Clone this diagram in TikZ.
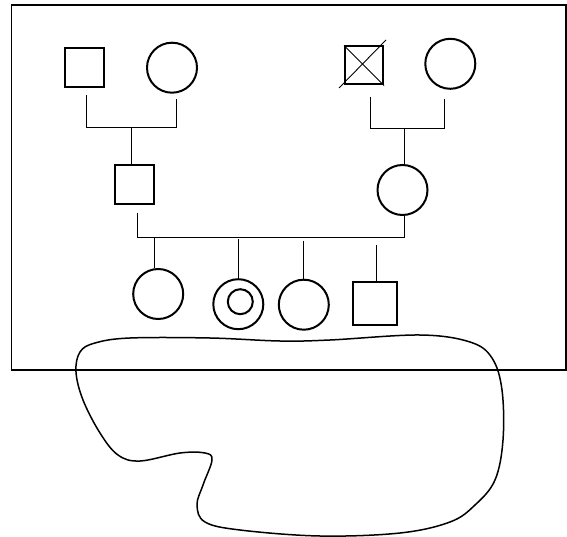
\documentclass[tikz,border=0pt]{standalone}
\begin{document}
\begin{tikzpicture}[x=1pt,y=-1pt,
  male/.style={draw,rectangle,line width=2pt,inner sep=0pt,minimum size=#1},
  female/.style={draw,circle,line width=2pt,inner sep=0pt,minimum size=#1},
  link/.style={line width=0.9pt},
  frame/.style={line width=1.3pt},
  blob/.style={line width=1.5pt}]
\useasboundingbox (0,0) rectangle (567,537);
\draw[frame] (11.5,5) rectangle (566,370);
% generation I
\node[male=39pt] (gf1) at (84.3,67.2) {};
\node[female=50pt] (gm1) at (172,67.7) {};
\node[male=38pt] (gf2) at (364,65.5) {};
\node[female=50pt] (gm2) at (450.3,63.8) {};
\draw[link] ([shift={(-5,2.5)}]gf2.south west) -- ([shift={(2,-5.5)}]gf2.north east);
\draw[link] (gf2.north west) -- (gf2.south east);
% generation II
\node[male=39pt] (fa) at (134,185) {};
\node[female=50pt] (mo) at (402.5,190) {};
% generation III
\node[female=50pt] (c1) at (158.2,294) {};
\node[female=50pt] (c2) at (238.3,304.2) {};
\node[circle,draw,line width=2pt,inner sep=0pt,minimum size=25pt] (c2i) at (240.3,301.7) {};
\node[female=50pt] (c3) at (303.8,304.7) {};
\node[draw,rectangle,line width=2pt,inner sep=0pt,minimum width=44pt,minimum height=43pt] (c4) at (375.2,303.2) {};
% connector points
\coordinate (a1) at (86,95);
\coordinate (b1) at (176,99);
\coordinate (m1) at (131.6,127.5);
\coordinate (a2) at (370,97);
\coordinate (b2) at (444.5,99);
\coordinate (m2) at (404,128.5);
\coordinate (a3) at (137.4,213);
\coordinate (b3) at (404.3,215);
\coordinate (m3) at (270,237.5);
\coordinate (s1) at (154.4,237.5);
\coordinate (s2) at (238,239);
\coordinate (s3) at (303.8,241);
\coordinate (s4) at (376,245);
% mating / sibship lines
\draw[link] (a1) -- (a1 |- m1) -- (b1 |- m1) -- (b1);
\draw[link] (m1) -- (m1 |- fa.north);
\draw[link] (a2) -- (a2 |- m2) -- (b2 |- m2) -- (b2);
\draw[link] (m2) -- (m2 |- mo.north);
\draw[link] (a3) -- (a3 |- m3) -- (b3 |- m3) -- (b3);
\draw[link] (s1) -- (s1 |- c1.north);
\draw[link] (s2) -- (s2 |- c2.north);
\draw[link] (s3) -- (s3 |- c3.north);
\draw[link] (s4) -- (s4 |- c4.north);
% free-form outline
\draw[blob] plot[smooth cycle, tension=0.6] coordinates {
 (76,372) (80,352) (95,343) (130,338) (210,338) (280,341) (330,340) (420,335)
 (470,342) (492,358) (502,390) (503,440) (495,480) (475,505) (450,522) (400,533)
 (320,536) (240,530) (205,522) (197,505) (203,485) (212,460) (205,453) (180,453)
 (140,461) (118,455) (100,433) (83,400)};
\end{tikzpicture}
\end{document}
